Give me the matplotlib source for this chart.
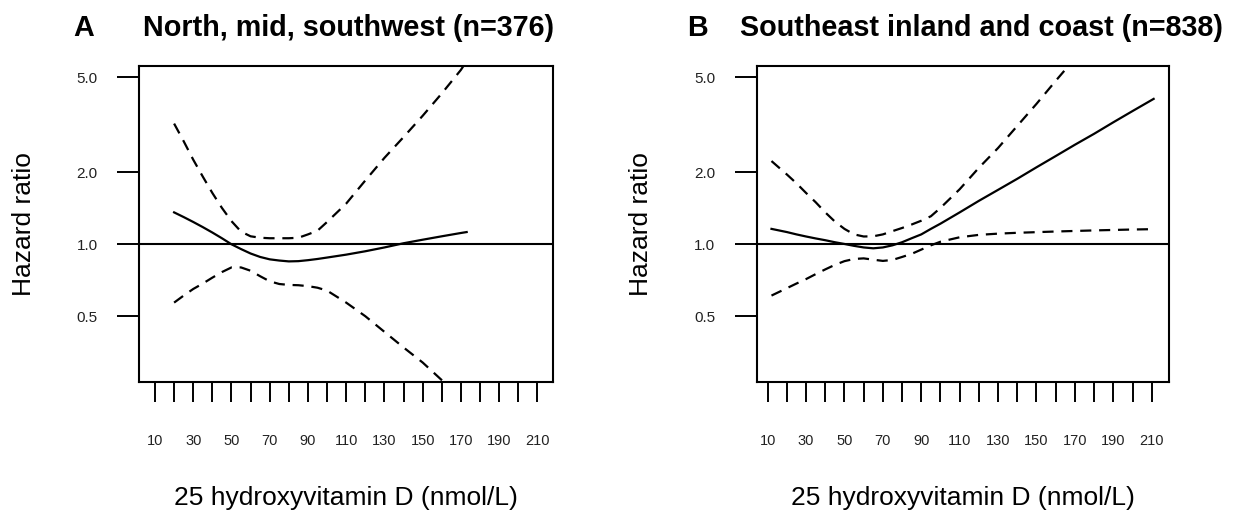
"""Hazard ratio by 25(OH)D, two regions, log scale."""
import matplotlib
matplotlib.use("Agg")
import matplotlib.pyplot as plt
from matplotlib.ticker import NullLocator

plt.rcParams["font.family"] = ["Liberation Sans", "DejaVu Sans"]

W, H = 1239, 514

# panel A: north, mid, southwest
x_a = [20, 25, 30, 35, 40, 45, 50, 55, 60, 65, 70, 75, 80, 85, 90, 95, 100,
       110, 120, 130, 140, 150, 160, 170, 173]
hr_a = [1.36, 1.30, 1.24, 1.18, 1.12, 1.06, 1.00, 0.955, 0.915, 0.885, 0.865,
        0.855, 0.848, 0.85, 0.858, 0.868, 0.88, 0.905, 0.935, 0.97, 1.01,
        1.045, 1.08, 1.115, 1.125]
up_a = [3.2, 2.7, 2.26, 1.92, 1.64, 1.42, 1.25, 1.13, 1.08, 1.065, 1.06, 1.06,
        1.06, 1.065, 1.10, 1.14, 1.24, 1.48, 1.85, 2.30, 2.81, 3.45, 4.28,
        5.37, 5.85]
lo_a = [0.57, 0.61, 0.65, 0.685, 0.725, 0.765, 0.80, 0.80, 0.775, 0.735, 0.70,
        0.682, 0.676, 0.674, 0.668, 0.658, 0.64, 0.57, 0.50, 0.43, 0.37, 0.32,
        0.27, 0.23, 0.22]

# panel B: southeast inland and coast
x_b = [12, 20, 25, 30, 35, 40, 45, 50, 55, 60, 65, 70, 75, 80, 85, 90, 95, 100,
       110, 120, 130, 140, 150, 160, 170, 180, 190, 200, 211]
hr_b = [1.16, 1.125, 1.10, 1.078, 1.058, 1.04, 1.02, 1.003, 0.985, 0.97, 0.962,
        0.97, 0.99, 1.02, 1.06, 1.10, 1.16, 1.22, 1.36, 1.52, 1.69, 1.88, 2.10,
        2.34, 2.61, 2.90, 3.24, 3.61, 4.06]
lo_b = [0.61, 0.655, 0.685, 0.715, 0.75, 0.785, 0.82, 0.85, 0.868, 0.873, 0.862,
        0.852, 0.86, 0.885, 0.912, 0.95, 0.99, 1.025, 1.07, 1.095, 1.108, 1.117,
        1.124, 1.131, 1.137, 1.143, 1.148, 1.153, 1.157]
x_up_b = [12, 20, 25, 30, 35, 40, 45, 50, 55, 60, 65, 70, 75, 80, 85, 90, 95,
          100, 110, 120, 130, 140, 150, 160, 170]
up_b = [2.23, 1.96, 1.80, 1.64, 1.50, 1.36, 1.245, 1.16, 1.10, 1.078, 1.08,
        1.10, 1.135, 1.17, 1.21, 1.255, 1.31, 1.42, 1.70, 2.09, 2.53, 3.13,
        3.87, 4.83, 6.0]

x_ticks = list(range(10, 211, 10))
x_labels = [str(t) if (t // 10) % 2 == 1 else "" for t in x_ticks]
y_ticks = [0.5, 1.0, 2.0, 5.0]
y_labels = ["0.5", "1.0", "2.0", "5.0"]

titles = [("A", "North, mid, southwest (n=376)"),
          ("B", "Southeast inland and coast (n=838)")]


def panel(fig, rect, xlim, x, hr, x_up, up, x_lo, lo):
    ax = fig.add_axes(rect)
    ax.set_yscale("log")
    ax.plot(x, hr, color="black", lw=1.6)
    ax.plot(x_up, up, color="black", lw=1.6, dashes=(5, 3.5))
    ax.plot(x_lo, lo, color="black", lw=1.6, dashes=(5, 3.5))
    ax.axhline(1.0, color="black", lw=1.5)
    ax.set_xlim(*xlim)
    ax.set_ylim(0.266, 5.59)
    ax.set_xticks(x_ticks, x_labels)
    ax.set_yticks(y_ticks, y_labels)
    ax.yaxis.set_minor_locator(NullLocator())
    ax.xaxis.set_minor_locator(NullLocator())
    ax.tick_params(axis="x", direction="out", length=14.5, width=1.4,
                   pad=23.5, labelsize=10.5, labelcolor="#222222")
    ax.tick_params(axis="y", direction="out", length=15.5, width=1.4,
                   pad=14.5, labelsize=11, labelcolor="#222222")
    for s in ax.spines.values():
        s.set_linewidth(1.5)
    ax.set_xlabel("25 hydroxyvitamin D (nmol/L)", fontsize=19)
    ax.set_ylabel("Hazard ratio", fontsize=19, va="center")
    ax.yaxis.set_label_coords(-0.28, 0.5)
    ax.xaxis.set_label_coords(0.5, -0.39)
    ax.xaxis.label.set_va("baseline")
    return ax


def main():
    fig = plt.figure(figsize=(W / 100, H / 100), dpi=100)
    panel(fig, [139.3 / W, 132.3 / H, 413.4 / W, 316 / H], (1.8, 218.0),
          x_a, hr_a, x_a, up_a, x_a, lo_a)
    panel(fig, [756.7 / W, 132.3 / H, 412.3 / W, 316 / H], (4.3, 219.0),
          x_b, hr_b, x_up_b, up_b, x_b, lo_b)
    for (letter, text), (px_l, px_t) in zip(titles, [(73, 143), (687, 740)]):
        fig.text(px_l / W, 1 - 36 / H, letter, fontsize=20.7,
                 fontweight="bold", ha="left", va="baseline")
        fig.text(px_t / W, 1 - 36 / H, text, fontsize=20.7,
                 fontweight="bold", ha="left", va="baseline")
    fig.savefig("out.png", dpi=100)
    plt.close(fig)


if __name__ == "__main__":
    main()
